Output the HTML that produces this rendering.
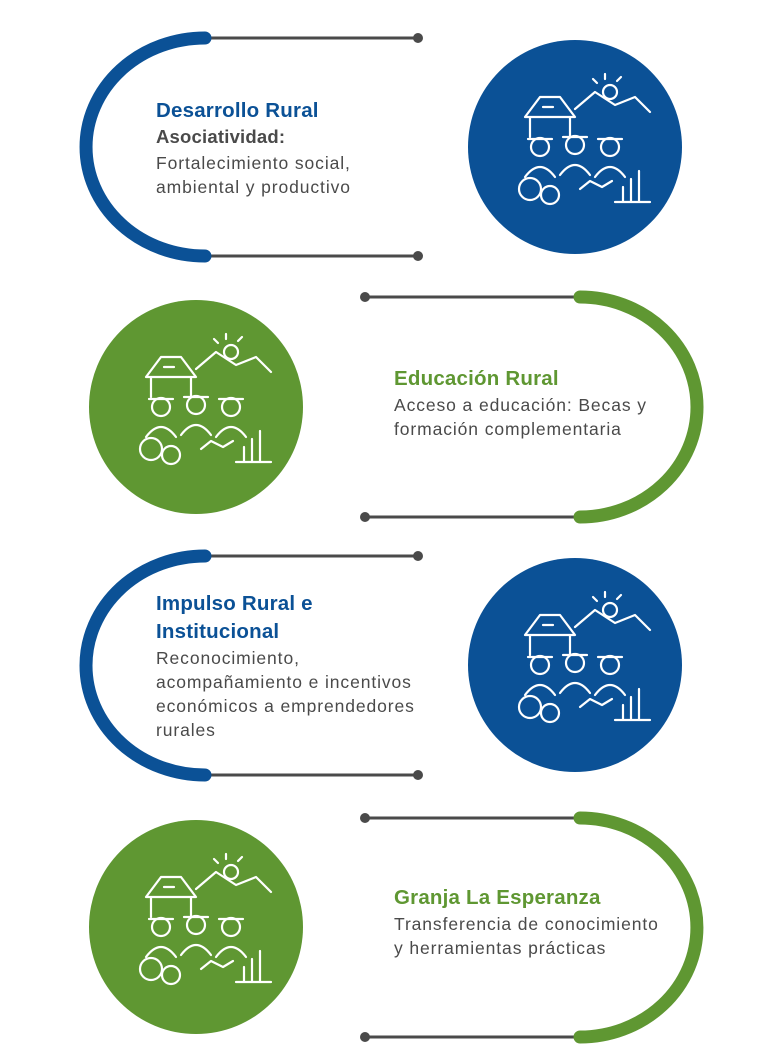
<!DOCTYPE html>
<html><head><meta charset="utf-8"><style>
body{margin:0;background:#fff;width:784px;height:1062px;overflow:hidden;font-family:"Liberation Sans",sans-serif}
.t{position:absolute;color:#4a4a4a;font-size:17.5px;line-height:24px;letter-spacing:0.9px;white-space:nowrap}
.h{font-weight:bold;font-size:20.5px;line-height:28px;letter-spacing:0.2px}
.b{color:#0b5196}.g{color:#5f9732}
</style></head><body>
<svg width="784" height="1062" style="position:absolute;left:0;top:0">
<g stroke="#4a4a4a" stroke-width="3" fill="#4a4a4a">
<line x1="205" y1="38" x2="418" y2="38"/><circle cx="418" cy="38" r="5" stroke="none"/>
<line x1="205" y1="256" x2="418" y2="256"/><circle cx="418" cy="256" r="5" stroke="none"/>
<line x1="365" y1="297" x2="580" y2="297"/><circle cx="365" cy="297" r="5" stroke="none"/>
<line x1="365" y1="517" x2="580" y2="517"/><circle cx="365" cy="517" r="5" stroke="none"/>
<line x1="205" y1="556" x2="418" y2="556"/><circle cx="418" cy="556" r="5" stroke="none"/>
<line x1="205" y1="775" x2="418" y2="775"/><circle cx="418" cy="775" r="5" stroke="none"/>
<line x1="365" y1="818" x2="580" y2="818"/><circle cx="365" cy="818" r="5" stroke="none"/>
<line x1="365" y1="1037" x2="580" y2="1037"/><circle cx="365" cy="1037" r="5" stroke="none"/>
</g>
<g fill="none" stroke-width="13" stroke-linecap="round">
<path d="M205,38 A119,109 0 0 0 205,256" stroke="#0b5196"/>
<path d="M580,297 A117,110 0 0 1 580,517" stroke="#5f9732"/>
<path d="M205,556 A119,109.5 0 0 0 205,775" stroke="#0b5196"/>
<path d="M580,818 A117,109.5 0 0 1 580,1037" stroke="#5f9732"/>
</g>
<circle cx="575" cy="147" r="107" fill="#0b5196"/>
<circle cx="196" cy="407" r="107" fill="#5f9732"/>
<circle cx="575" cy="665" r="107" fill="#0b5196"/>
<circle cx="196" cy="927" r="107" fill="#5f9732"/>
<defs>
<g id="ic" fill="none" stroke="#fff" stroke-width="2.2" stroke-linejoin="round" stroke-linecap="round">
<path d="M-50,-30 L-35,-50 L-15,-50 L0,-30 Z M-45,-30 V-10 M-5,-30 V-10 M-32,-40 h10"/>
<path d="M0,-38 L20,-55 L40,-42 L60,-50 L75,-35"/>
<circle cx="35" cy="-55" r="7"/>
<path d="M30,-68 v-5 M42,-66 l4,-4 M22,-64 l-4,-4"/>
<circle cx="-35" cy="0" r="9"/><path d="M-50,30 q15,-20 30,0"/>
<circle cx="0" cy="-2" r="9"/><path d="M-15,28 q15,-20 30,0"/>
<circle cx="35" cy="0" r="9"/><path d="M20,30 q15,-20 30,0"/>
<path d="M-47,-8 h24 M-12,-10 h24 M23,-8 h24"/>
<circle cx="-45" cy="42" r="11"/><circle cx="-25" cy="48" r="9"/>
<path d="M5,42 l10,-8 l12,6 l10,-6"/>
<path d="M48,55 V40 M56,55 V32 M64,55 V24 M40,55 h35"/>
</g>
</defs>
<use href="#ic" x="575" y="147"/>
<use href="#ic" x="196" y="407"/>
<use href="#ic" x="575" y="665"/>
<use href="#ic" x="196" y="927"/>
</svg>
<div class="t" style="left:156px;top:97px"><div class="h b">Desarrollo Rural</div><div style="font-weight:bold;font-size:18.5px;line-height:24px;letter-spacing:0.2px">Asociatividad:</div><div style="margin-top:2px">Fortalecimiento social,<br>ambiental y productivo</div></div>
<div class="t" style="left:394px;top:365px"><div class="h g">Educación Rural</div>Acceso a educación: Becas y<br>formación complementaria</div>
<div class="t" style="left:156px;top:590px"><div class="h b">Impulso Rural e<br>Institucional</div>Reconocimiento,<br>acompañamiento e incentivos<br>económicos a emprendedores<br>rurales</div>
<div class="t" style="left:394px;top:884px"><div class="h g">Granja La Esperanza</div>Transferencia de conocimiento<br>y herramientas prácticas</div>
</body></html>
